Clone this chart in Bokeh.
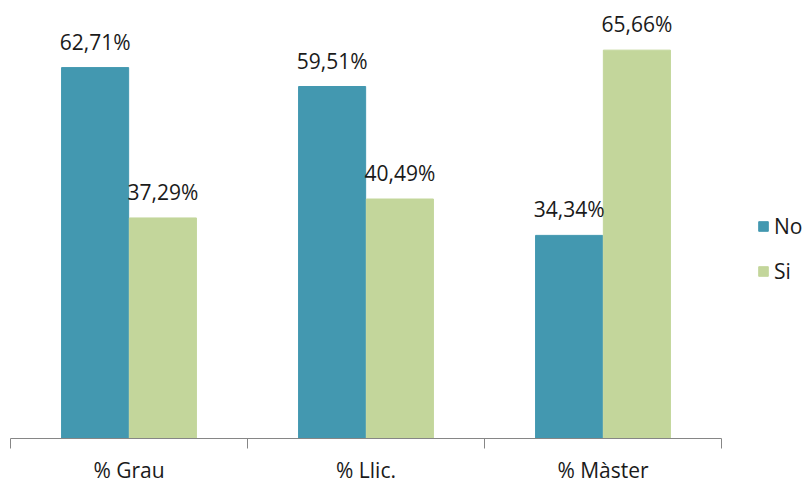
from bokeh.plotting import figure
from bokeh.models import ColumnDataSource, FixedTicker, Range1d, Legend, LegendItem
from bokeh.transform import dodge
from bokeh.core.properties import value
from bokeh.embed import file_html
from bokeh.resources import INLINE

categories = ["% Grau", "% Llic.", "% Màster"]
no_values = [62.71, 59.51, 34.34]
si_values = [37.29, 40.49, 65.66]
series_names = ["No", "Si"]
colors = ["#4398B0", "#C3D69B"]

FONT = "Open Sans"

xc = [i + 0.5 for i in range(len(categories))]
fmt = lambda v: f"{v:.2f}".replace(".", ",") + "%"
src = ColumnDataSource(dict(
    x=xc, no=no_values, si=si_values,
    no_lbl=[fmt(v) for v in no_values], si_lbl=[fmt(v) for v in si_values],
))

p = figure(frame_width=711, frame_height=430, output_backend="svg", toolbar_location=None,
           x_range=Range1d(0, len(categories)), y_range=Range1d(0, 72.7),
           min_border_left=10, min_border_top=8, min_border_bottom=0, min_border_right=0)
p.outline_line_color = None
p.xgrid.visible = False
p.ygrid.visible = False
p.yaxis.visible = False

d = 0.143
w = 0.283
r_no = p.vbar(x=dodge("x", -d), top="no", width=w, source=src, color=colors[0])
r_si = p.vbar(x=dodge("x", d), top="si", width=w, source=src, color=colors[1])

for col, lbl, off in (("no", "no_lbl", -d), ("si", "si_lbl", d)):
    p.text(x=dodge("x", off), y=col, text=lbl, source=src, text_align="center",
           text_baseline="bottom", y_offset=-12, text_font=value(FONT),
           text_font_size="21px", text_color="#1a1a1a")

ax = p.xaxis[0]
ax.ticker = FixedTicker(ticks=xc, minor_ticks=list(range(len(categories) + 1)))
ax.major_label_overrides = {x: c for x, c in zip(xc, categories)}
ax.major_tick_out = 0
ax.major_tick_in = 0
ax.minor_tick_out = 10
ax.minor_tick_in = 0
ax.minor_tick_line_color = "#868686"
ax.axis_line_color = "#868686"
ax.major_label_standoff = 7
ax.major_label_text_font = FONT
ax.major_label_text_font_size = "21px"
ax.major_label_text_color = "#1a1a1a"

legend = Legend(items=[LegendItem(label=series_names[0], renderers=[r_no]),
                       LegendItem(label=series_names[1], renderers=[r_si])],
                location=(36, 153), border_line_color=None, background_fill_alpha=0,
                glyph_width=12, glyph_height=12, label_standoff=5, spacing=17,
                padding=0, margin=0, label_text_font=FONT, label_text_font_size="21px",
                label_text_color="#1a1a1a")
p.add_layout(legend, "right")

open("out.html", "w").write(file_html(p, INLINE))
